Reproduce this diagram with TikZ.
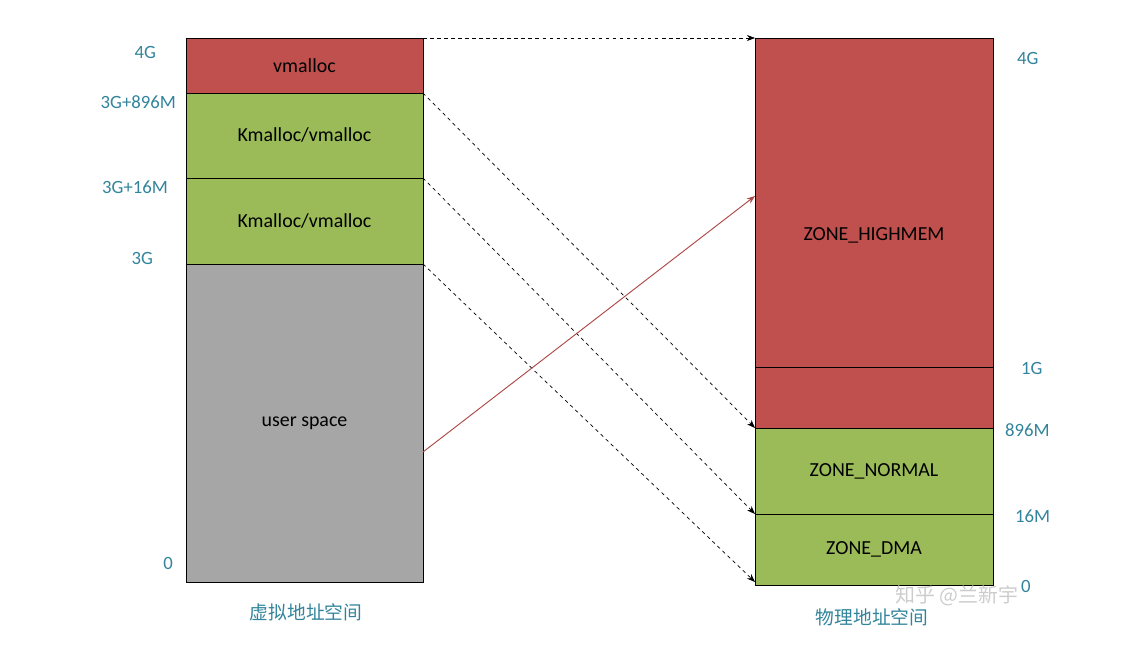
\documentclass[tikz,border=0pt]{standalone}
\usepackage{fontspec}
\setmainfont{Carlito}
\newfontfamily\cjk{Noto Sans CJK SC}
\usetikzlibrary{arrows.meta}
\definecolor{zred}{HTML}{C0504D}
\definecolor{zgreen}{HTML}{9BBB59}
\definecolor{zgray}{HTML}{A6A6A6}
\definecolor{lbl}{HTML}{31849B}
\begin{document}
\begin{tikzpicture}[x=0.03cm,y=-0.03cm,
  blk/.style={draw=black,line width=0.6pt,font=\fontsize{17}{20}\selectfont},
  lab/.style={text=lbl,font=\fontsize{16}{19}\selectfont},
  captxt/.style={text=lbl,font=\cjk\fontsize{16}{19}\selectfont},
  dsh/.style={dashed,line width=0.6pt,-{Stealth[length=7pt]}},
  redarr/.style={draw=zred!90!black,line width=0.8pt,-{Stealth[length=7pt]}}]
\useasboundingbox (0,0) rectangle (1147,647);
% left column
\path[blk,fill=zred] (186,38) rectangle node (lv) {vmalloc} (423,93);
\path[blk,fill=zgreen] (186,93) rectangle node (lk1) {Kmalloc/vmalloc} (423,178);
\path[blk,fill=zgreen] (186,178) rectangle node (lk2) {Kmalloc/vmalloc} (423,264);
\path[blk,fill=zgray] (186,264) rectangle node (lu) {user space} (423,582);
% right column
\path[blk,fill=zred] (755,38) rectangle (993,428);
\draw[line width=0.6pt] (755,367) -- (993,367);
\node[font=\fontsize{17}{20}\selectfont] (rh) at (874,235) {ZONE\_HIGHMEM};
\path[blk,fill=zgreen] (755,428) rectangle node (rn) {ZONE\_NORMAL} (993,514);
\path[blk,fill=zgreen] (755,514) rectangle node (rd) {ZONE\_DMA} (993,585);
% coordinates
\coordinate (a1) at (423,38); \coordinate (b1) at (755,38);
\coordinate (a2) at (423,93); \coordinate (b2) at (755,428);
\coordinate (a3) at (423,178); \coordinate (b3) at (755,514);
\coordinate (a4) at (423,264); \coordinate (b4) at (755,582);
\coordinate (a5) at (423,452); \coordinate (b5) at (755,196);
\draw[dsh] (a1) -- (b1);
\draw[dsh] (a2) -- (b2);
\draw[dsh] (a3) -- (b3);
\draw[dsh] (a4) -- (b4);
\draw[redarr] (a5) -- (b5);
% left labels
\node[lab,anchor=east] (l4g) at (160,52) {4G};
\node[lab,anchor=east] (l896) at (180,102) {3G+896M};
\node[lab,anchor=east] (l16) at (172,187) {3G+16M};
\node[lab,anchor=east] (l3g) at (157,258) {3G};
\node[lab,anchor=east] (l0) at (177,563) {0};
% right labels
\node[lab,anchor=west] (r4g) at (1013,58) {4G};
\node[lab,anchor=west] (r1g) at (1017,368) {1G};
\node[lab,anchor=west] (r896) at (1001,430) {896M};
\node[lab,anchor=west] (r16) at (1011,516) {16M};
\node[lab,anchor=west] (r0) at (1017,586) {0};
% captions
\node[captxt] (c1) at (306,612) {虚拟地址空间};
\node[captxt] (c2) at (872,617) {物理地址空间};
\node[text=gray!40,font=\cjk\fontsize{17}{20}\selectfont] (wm) at (957,596) {知乎 @兰新宇};
\end{tikzpicture}
\end{document}
